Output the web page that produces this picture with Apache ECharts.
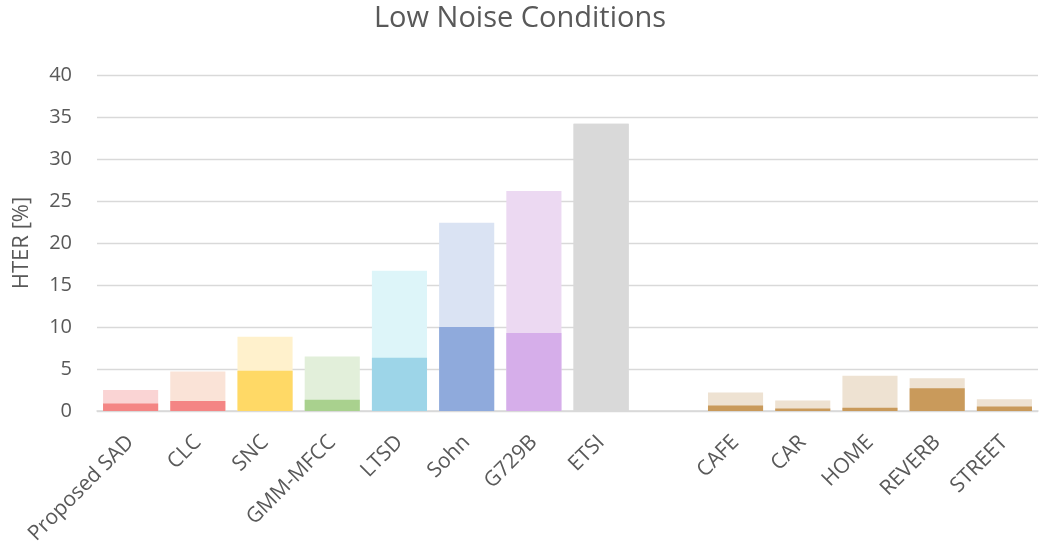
<!DOCTYPE html>
<html>
<head>
<meta charset="utf-8">
<script src="https://cdn.jsdelivr.net/npm/echarts@6/dist/echarts.min.js"></script>
<style>
  html, body { margin: 0; padding: 0; background: #fff; }
  #chart { width: 1040px; height: 549px; }
</style>
</head>
<body>
<div id="chart"></div>
<script>
// Detectors, a spacer slot, then the noise environments
const categories = ['Proposed SAD', 'CLC', 'SNC', 'GMM-MFCC', 'LTSD', 'Sohn', 'G729B', 'ETSI', '',
                    'CAFE', 'CAR', 'HOME', 'REVERB', 'STREET'];
// Full bar height (HTER %)
const totalHTER = [2.5, 4.7, 8.85, 6.5, 16.7, 22.4, 26.2, 34.2, null, 2.2, 1.25, 4.2, 3.9, 1.4];
// Darker lower part drawn over the full bar
const lowerHTER = [0.9, 1.2, 4.8, 1.35, 6.35, 10.0, 9.3, 34.2, null, 0.65, 0.3, 0.4, 2.7, 0.55];
const yTicks = [0, 5, 10, 15, 20, 25, 30, 35, 40];

const lightColors = ['#FAD4D4', '#FAE3D7', '#FFF1CC', '#E2EFDA', '#DDF5F9', '#DAE3F3', '#ECD9F2', '#D9D9D9', '#fff',
                     '#EEE2D2', '#EEE2D2', '#EEE2D2', '#EEE2D2', '#EEE2D2'];
const darkColors = ['#F48584', '#F48584', '#FFD966', '#A9D18E', '#9DD5E8', '#8FAADC', '#D6AEEA', '#D9D9D9', '#fff',
                    '#C99A5B', '#C99A5B', '#C99A5B', '#C99A5B', '#C99A5B'];

const FONT = '"Open Sans", "Noto Sans", sans-serif';

const chart = echarts.init(document.getElementById('chart'), null, { renderer: 'canvas' });
chart.setOption({
  animation: false,
  title: {
    text: 'Low Noise Conditions',
    left: 'center',
    top: -1,
    textStyle: { fontFamily: FONT, fontSize: 29, fontWeight: 'normal', color: '#595959' }
  },
  grid: { left: 97, right: 2, top: 75, bottom: 138, containLabel: false },
  xAxis: {
    type: 'category',
    data: categories,
    axisLine: { lineStyle: { color: '#D9D9D9', width: 1.5 } },
    axisTick: { show: false },
    axisLabel: {
      rotate: 45,
      interval: 0,
      margin: 28,
      fontFamily: FONT,
      fontSize: 21,
      color: '#595959'
    }
  },
  yAxis: {
    type: 'value',
    min: 0,
    max: 40,
    interval: 5,
    name: 'HTER [%]',
    nameLocation: 'middle',
    nameGap: 64,
    nameRotate: 90,
    nameTextStyle: { fontFamily: FONT, fontSize: 22, color: '#595959' },
    axisLine: { show: false },
    axisTick: { show: false },
    axisLabel: {
      margin: 25,
      fontFamily: FONT,
      fontSize: 20,
      color: '#595959',
      formatter: v => (yTicks.includes(v) ? String(v) : '')
    },
    splitLine: { lineStyle: { color: '#D9D9D9', width: 1.3 } }
  },
  series: [
    {
      type: 'bar',
      barWidth: '82%',
      barGap: '-100%',
      data: totalHTER.map((v, i) => ({ value: v, itemStyle: { color: lightColors[i] } }))
    },
    {
      type: 'bar',
      barWidth: '82%',
      data: lowerHTER.map((v, i) => ({ value: v, itemStyle: { color: darkColors[i] } }))
    }
  ]
});
</script>
</body>
</html>
